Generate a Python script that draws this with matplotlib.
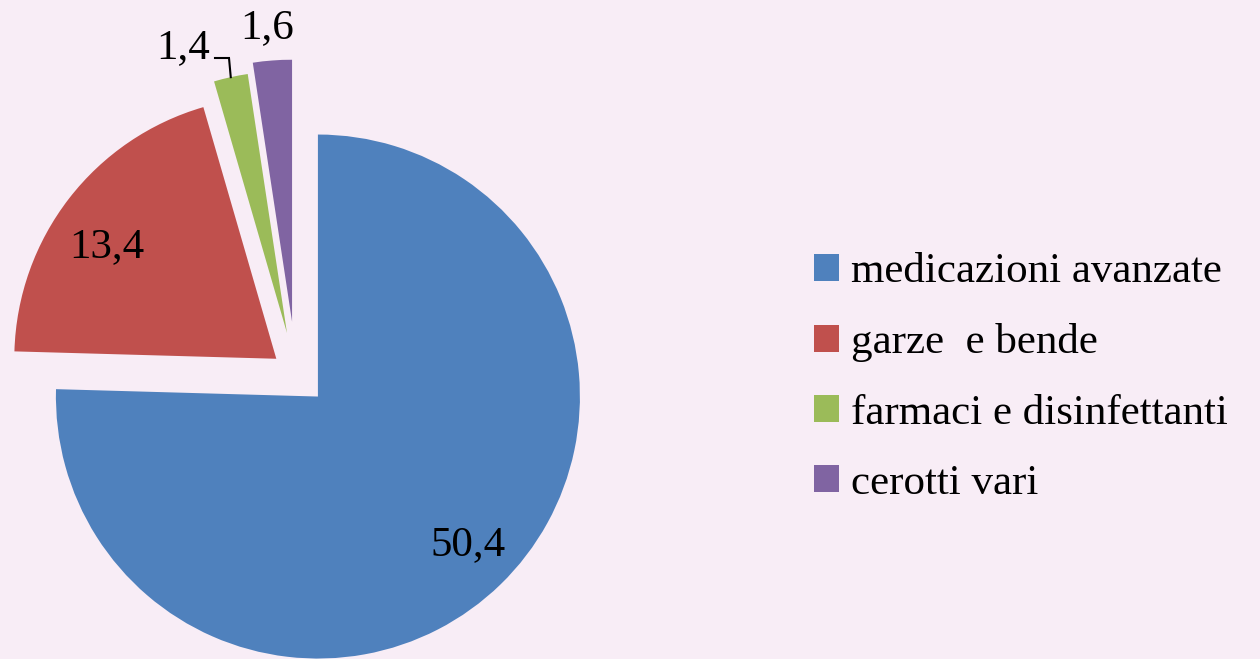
import numpy as np
import matplotlib.pyplot as plt
from matplotlib.patches import Patch

categories = ["medicazioni avanzate", "garze  e bende", "farmaci e disinfettanti", "cerotti vari"]
values = [50.4, 13.4, 1.4, 1.6]
value_labels = ["50,4", "13,4", "1,4", "1,6"]
colors = ["#4F81BD", "#C0504D", "#9BBB59", "#8064A2"]
explode = [0.12, 0.095, 0.16, 0.20]  # fraction of radius

W, H = 1260, 659
bg = "#F8EDF6"
center = (296, H - 374)
R = 262

fig = plt.figure(figsize=(W / 100, H / 100), dpi=100, facecolor=bg)
ax = fig.add_axes([0, 0, 1, 1])
ax.set_facecolor(bg)

wedges, _ = ax.pie(values, colors=colors, explode=[e * R for e in explode],
                   startangle=90, counterclock=False, center=center, radius=R,
                   wedgeprops=dict(linewidth=0))
ax.set_xlim(0, W)
ax.set_ylim(0, H)
ax.set_aspect("equal")
ax.axis("off")

font = "Liberation Serif"
# label positions (pixel coords, baseline)
label_pos = [(468, 555), (107, 257), (183, 58), (267, 38)]
for txt, (lx, ly) in zip(value_labels, label_pos):
    ax.text(lx, H - ly, txt, ha="center", va="baseline", fontsize=31,
            family=font, color="black")

# leader line for the small green slice
w = wedges[2]
mid = np.deg2rad((w.theta1 + w.theta2) / 2)
tip = (w.center[0] + R * np.cos(mid), w.center[1] + R * np.sin(mid))
ax.plot([215, 229, tip[0]], [H - 58, H - 58, tip[1]], color="black", lw=1.5,
        solid_joinstyle="miter")

handles = [Patch(facecolor=c, edgecolor="none") for c in colors]
fig.legend(handles, categories, loc="center left", bbox_to_anchor=(814 / W, 1 - 378 / H),
           frameon=False, prop=dict(family=font, size=31), handlelength=0.58,
           handleheight=0.58, handletextpad=0.28, labelspacing=0.74, borderpad=0,
           borderaxespad=0)

fig.savefig("out.png", dpi=100, facecolor=bg)
